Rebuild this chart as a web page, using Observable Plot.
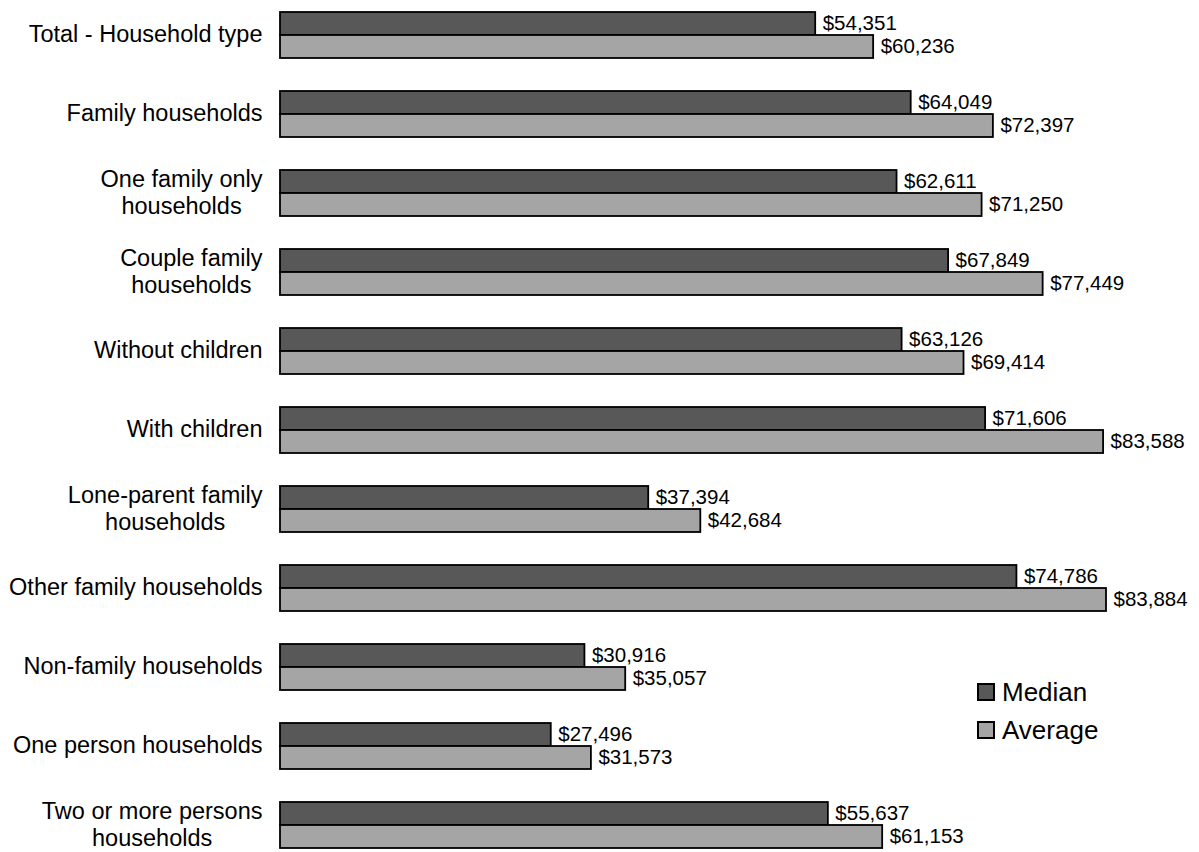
<!DOCTYPE html>
<html>
<head>
<meta charset="utf-8">
<script src="https://cdn.jsdelivr.net/npm/d3@7"></script>
<script src="https://cdn.jsdelivr.net/npm/@observablehq/plot@0.6"></script>
<style>
  body { margin: 0; background: #fff; font-family: "Liberation Sans", Arial, sans-serif; }
  #wrap { position: relative; width: 1199px; height: 852px; }
  #legend { position: absolute; left: 977px; top: 673px; font-size: 26px; color: #000; }
  .li { display: flex; align-items: center; height: 38px; }
  .sw { width: 18px; height: 18px; border: 2px solid #000; margin-right: 7px; box-sizing: border-box; }
</style>
</head>
<body>
<div id="wrap"><div id="legend"></div></div>
<script>
const categories = [
  "Total - Household type",
  "Family households",
  "One family only\nhouseholds",
  "Couple family\nhouseholds",
  "Without children",
  "With children",
  "Lone-parent family\nhouseholds",
  "Other family households",
  "Non-family households",
  "One person households",
  "Two or more persons\nhouseholds"
];
const median = [54351, 64049, 62611, 67849, 63126, 71606, 37394, 74786, 30916, 27496, 55637];
const average = [60236, 72397, 71250, 77449, 69414, 83588, 42684, 83884, 35057, 31573, 61153];
const seriesNames = ["Median", "Average"];
const seriesColors = ["#585858", "#a5a5a5"];

const medData = categories.map((c, i) => ({cat: c, value: median[i]}));
const avgData = categories.map((c, i) => ({cat: c, value: average[i]}));
const fmt = v => "$" + d3.format(",")(v);

const half = 23;
const chart = Plot.plot({
  width: 1199,
  height: 852,
  marginLeft: 280,
  marginRight: 93,
  x: {domain: [0, d3.max(average)], axis: null},
  y: {domain: categories, range: [-6.65, 865.65], paddingInner: 0.42, paddingOuter: 0.21, axis: null},
  style: {fontFamily: "'Liberation Sans', Arial, sans-serif", background: "#fff"},
  marks: [
    Plot.barX(medData, {x: "value", y: "cat", fill: seriesColors[0], stroke: "#000", strokeWidth: 1.8, insetBottom: half}),
    Plot.barX(avgData, {x: "value", y: "cat", fill: seriesColors[1], stroke: "#000", strokeWidth: 1.8, insetTop: half}),
    Plot.text(medData, {x: "value", y: "cat", text: d => fmt(d.value), textAnchor: "start", dx: 7, dy: -12.5, fontSize: 20.5, fill: "#000"}),
    Plot.text(avgData, {x: "value", y: "cat", text: d => fmt(d.value), textAnchor: "start", dx: 7, dy: 10.5, fontSize: 20.5, fill: "#000"}),
    Plot.text(categories, {y: d => d, text: d => d, frameAnchor: "left", textAnchor: "end", dx: -18, dy: -2, fontSize: 23.5, lineHeight: 1.18, fill: "#000"})
  ]
});
document.getElementById("wrap").prepend(chart);

// center the lines of multi-line category labels within their block
chart.querySelectorAll("text").forEach(t => {
  const spans = t.querySelectorAll("tspan");
  if (spans.length > 1) {
    let w = 0;
    spans.forEach(s => { w = Math.max(w, s.getComputedTextLength()); });
    t.setAttribute("text-anchor", "middle");
    spans.forEach(s => s.setAttribute("x", -w / 2));
  }
});

const legend = document.getElementById("legend");
seriesNames.forEach((n, i) => {
  const li = document.createElement("div");
  li.className = "li";
  li.innerHTML = `<div class="sw" style="background:${seriesColors[i]}"></div><span>${n}</span>`;
  legend.appendChild(li);
});
</script>
</body>
</html>
